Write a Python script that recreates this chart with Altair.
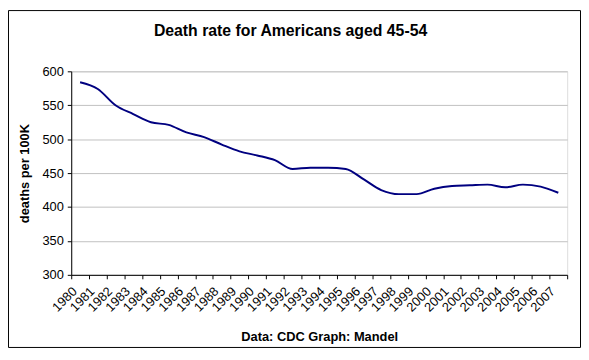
import altair as alt
import pandas as pd

years = [str(y) for y in range(1980, 2008)]
rates = [584, 574, 550, 537, 525, 521, 510, 503, 492, 482, 476, 469, 456, 458,
         458, 456, 441, 425, 419, 419, 427, 431, 432, 433, 429, 433, 430, 421]
y_ticks = [300, 350, 400, 450, 500, 550, 600]

df = pd.DataFrame({"year": years, "rate": rates})
FONT = "Liberation Sans"

line = alt.Chart(df).mark_line(color="#000080", strokeWidth=2, interpolate="monotone").encode(
    x=alt.X(
        "year:O",
        sort=years,
        scale=alt.Scale(type="band", paddingInner=0, paddingOuter=0),
        axis=alt.Axis(
            title="Data: CDC Graph: Mandel",
            titleFont=FONT, titleFontSize=13, titleFontWeight="bold", titleColor="black",
            titleY=66, titleBaseline="alphabetic",
            labelAngle=-45, labelAlign="right", labelBaseline="top",
            labelOffset=-10, labelPadding=6,
            labelFont=FONT, labelFontSize=13, labelColor="black",
            tickBand="extent", tickSize=4, tickColor="black",
            domainColor="black", grid=False, labelOverlap=False,
        ),
    ),
    y=alt.Y(
        "rate:Q",
        scale=alt.Scale(domain=[300, 600], nice=False, zero=False),
        axis=alt.Axis(
            values=y_ticks,
            title="deaths per 100K",
            titleFont=FONT, titleFontSize=13, titleFontWeight="bold", titleColor="black",
            titleX=-47, titleBaseline="middle",
            labelFont=FONT, labelFontSize=13, labelColor="black", labelPadding=4,
            tickSize=4, tickColor="black", domainColor="black",
            grid=True, gridColor="#C0C0C0", gridWidth=1,
        ),
    ),
)

border = alt.Chart(alt.Data(values=[{"a": 1}])).mark_rect(
    fillOpacity=0, stroke="black", strokeWidth=1
).encode(
    x=alt.value(-63.5), x2=alt.value(515.5), y=alt.value(-61.5), y2=alt.value(279.5)
)

chart = alt.layer(line, border).properties(
    width=502,
    height=206,
    title=alt.TitleParams(
        "Death rate for Americans aged 45-54",
        font=FONT, fontSize=16, fontWeight="bold", color="black",
        anchor="middle", dx=-29, baseline="alphabetic", offset=-42,
    ),
    autosize=alt.AutoSizeParams(type="none"),
    padding={"left": 64, "top": 62, "right": 14, "bottom": 76},
).configure_view(stroke="#808080", strokeWidth=1).configure(background="white")

chart.save("out.html", embed_options={"renderer": "svg", "actions": False})
